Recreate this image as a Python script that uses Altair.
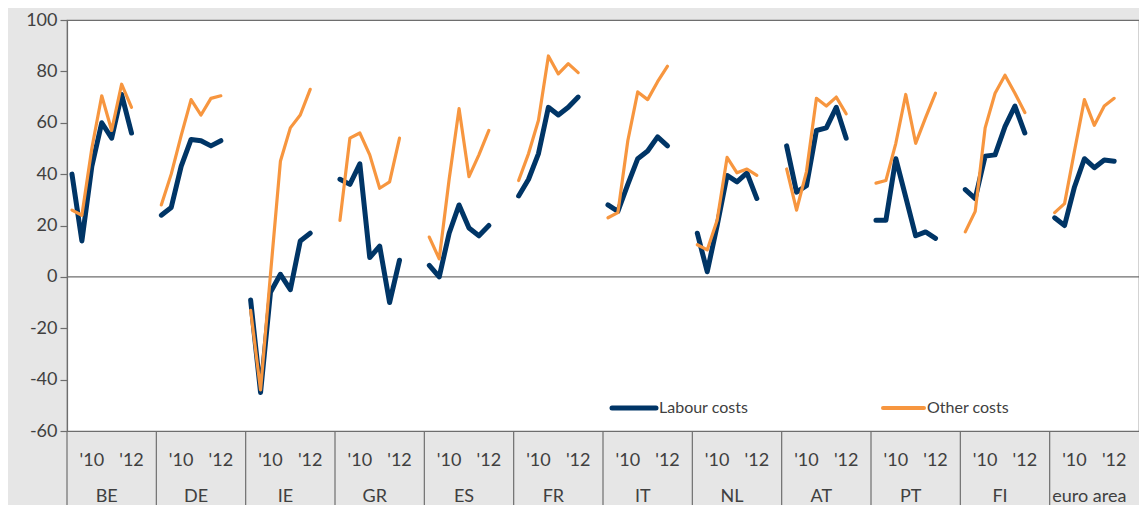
import altair as alt
import pandas as pd

countries = ["BE", "DE", "IE", "GR", "ES", "FR", "IT", "NL", "AT", "PT", "FI", "euro area"]
periods = ["2009H1", "2009H2", "2010H1", "2010H2", "2011H1", "2011H2", "2012H1"]
year_ticks = ["'10", "'12"]
year_tick_slots = [2, 6]

labour_costs = [
    [40, 14, 43, 60, 54, 71, 56],
    [24, 27, 43, 53.5, 53, 51, 53],
    [-9, -45, -6, 1, -5, 14, 17],
    [38, 36, 44, 7.5, 12, -10, 6.5],
    [4.5, 0, 17, 28, 19, 16, 20],
    [31.5, 38, 48, 66, 63, 66, 70],
    [28, 25.5, 36, 46, 49, 54.5, 51],
    [17, 2, 20, 39.5, 37, 40.5, 30.5],
    [51, 33, 35.5, 57, 58, 66, 54],
    [22, 22, 46, 31, 16, 17.5, 15],
    [34, 30.5, 47, 47.5, 58.5, 66.5, 56],
    [23, 20, 35, 46, 42.5, 45.5, 45],
]
other_costs = [
    [26, 24, 50, 70.5, 57, 75, 66],
    [28, 40, 55, 69, 63, 69.5, 70.5],
    [-13, -44, 1, 45, 58, 63, 73],
    [22, 54, 56, 47.5, 34.5, 37, 54],
    [15.5, 7, 38, 65.5, 39, 47.5, 57],
    [37.5, 48, 61, 86, 79, 83, 79.5],
    [23, 25, 53, 72, 69, 76, 82],
    [12.5, 10.5, 22, 46.5, 40.5, 42, 39.5],
    [42, 26, 41, 69.5, 66.5, 70, 63.5],
    [36.5, 37.5, 52, 71, 52, 62, 71.5],
    [17.5, 25.5, 58, 71.5, 78.5, 71.5, 64],
    [25, 28.5, 49, 69, 59, 66.5, 69.5],
]
series_names = ["Labour costs", "Other costs"]
y_ticks = [-60, -40, -20, 0, 20, 40, 60, 80, 100]

SLOTS = 9  # slots per country group (7 periods + gap)
NAVY = "#003566"
ORANGE = "#f7963f"
GRID = "#6e6e6e"
TEXT = "#404040"
FONT = "Lato"

rows = []
for ci, c in enumerate(countries):
    for pi, p in enumerate(periods):
        rows.append({"country": c, "period": p, "series": series_names[0],
                     "x": ci * SLOTS + pi + 0.5, "value": labour_costs[ci][pi]})
        rows.append({"country": c, "period": p, "series": series_names[1],
                     "x": ci * SLOTS + pi + 0.5, "value": other_costs[ci][pi]})
df = pd.DataFrame(rows)

sep_df = pd.DataFrame({"x": [ci * SLOTS for ci in range(len(countries))]})
yr_rows = []
for ci, c in enumerate(countries):
    for lab, s in zip(year_ticks, year_tick_slots):
        yr_rows.append({"x": ci * SLOTS + s + 0.5, "label": lab})
yr_df = pd.DataFrame(yr_rows)
cn_df = pd.DataFrame({"x": [ci * SLOTS + SLOTS / 2 - 0.5 for ci in range(len(countries))],
                      "country": countries})

W, H = 1072, 411
xscale = alt.Scale(domain=[0, len(countries) * SLOTS], nice=False, zero=False)
yscale = alt.Scale(domain=[-60, 100], nice=False)
X = alt.X("x:Q", scale=xscale, axis=None)
YAXIS = alt.Axis(values=y_ticks, title=None, grid=False, labelFontSize=18,
                 labelExpr="datum.value < 0 ? '-' + abs(datum.value) : '' + datum.value",
                 labelColor=TEXT, labelFont=FONT, tickColor=GRID, domainColor=GRID,
                 tickSize=7, labelPadding=3, domainWidth=1.2, tickWidth=1.2)

zero = alt.Chart(pd.DataFrame({"value": [0]})).mark_rule(color=GRID, strokeWidth=1.2).encode(
    y=alt.Y("value:Q", scale=yscale, axis=YAXIS)
)

def series_layer(name, color, width):
    return alt.Chart(df[df["series"] == name]).mark_line(
        color=color, strokeWidth=width, strokeCap="round", strokeJoin="round"
    ).encode(
        x=X,
        y=alt.Y("value:Q", scale=yscale, axis=YAXIS),
        detail="country:N",
        order="x:Q",
    )

navy_lines = series_layer(series_names[0], NAVY, 5)
orange_lines = series_layer(series_names[1], ORANGE, 3.2)

seps = alt.Chart(sep_df).mark_rule(color=GRID, strokeWidth=1.2).encode(
    x=X, y=alt.value(H), y2=alt.value(H + 74)
)
yr_text = alt.Chart(yr_df).mark_text(fontSize=18, font=FONT, color=TEXT, baseline="middle").encode(
    x=X, y=alt.value(H + 30), text="label:N"
)
cn_text = alt.Chart(cn_df).mark_text(fontSize=18, font=FONT, color=TEXT, baseline="middle").encode(
    x=X, y=alt.value(H + 66), text="country:N"
)

leg_df = pd.DataFrame({"series": series_names})
leg_lab_rule = alt.Chart(leg_df[leg_df.series == series_names[0]]).mark_rule(
    color=NAVY, strokeWidth=5, strokeCap="round").encode(
    x=alt.value(545), x2=alt.value(589), y=alt.value(388))
leg_oth_rule = alt.Chart(leg_df[leg_df.series == series_names[1]]).mark_rule(
    color=ORANGE, strokeWidth=4, strokeCap="round").encode(
    x=alt.value(816), x2=alt.value(857), y=alt.value(388))
leg_lab_text = alt.Chart(leg_df[leg_df.series == series_names[0]]).mark_text(
    fontSize=16, font=FONT, color=TEXT, align="left", baseline="middle").encode(
    x=alt.value(592), y=alt.value(388), text="series:N")
leg_oth_text = alt.Chart(leg_df[leg_df.series == series_names[1]]).mark_text(
    fontSize=16, font=FONT, color=TEXT, align="left", baseline="middle").encode(
    x=alt.value(860), y=alt.value(388), text="series:N")

chart = alt.layer(
    zero, navy_lines, orange_lines, seps, yr_text, cn_text,
    leg_lab_rule, leg_oth_rule, leg_lab_text, leg_oth_text
).properties(
    width=W, height=H,
    autosize="none",
    padding={"left": 59, "top": 12, "right": 0, "bottom": 74},
    background="#e6e6e6",
).configure_view(
    fill="white", stroke=GRID, strokeWidth=1.2
)

chart.save("out.html", embed_options={"renderer": "svg", "actions": False})
